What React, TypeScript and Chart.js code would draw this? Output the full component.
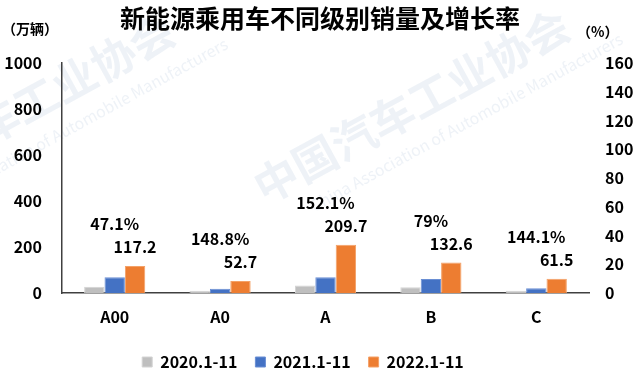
import React, { useEffect, useRef } from "react";
import { Chart, registerables } from "chart.js";

Chart.register(...registerables);

const categories = ["A00", "A0", "A", "B", "C"];
const seriesNames = ["2020.1-11", "2021.1-11", "2022.1-11"];
const sales2020 = [27, 10, 33, 25, 10];
const sales2021 = [68, 18, 68, 61, 21];
const sales2022 = [117.2, 52.7, 209.7, 132.6, 61.5];
const growth2022 = [47.1, 148.8, 152.1, 79, 144.1];

const FONT = '"Noto Sans CJK SC", "Noto Sans", sans-serif';

const watermarkPlugin = {
  id: "watermark",
  beforeDraw(chart: any) {
    const ctx = chart.ctx;
    ctx.save();
    const drawMark = (x: number, y: number) => {
      ctx.save();
      ctx.translate(x, y);
      ctx.rotate(-0.5);
      ctx.fillStyle = "rgba(205,218,232,0.35)";
      ctx.font = `bold 44px ${FONT}`;
      ctx.textBaseline = "alphabetic";
      ctx.fillText("中国汽车工业协会", 0, 0);
      ctx.font = `16px ${FONT}`;
      ctx.fillText("China Association of Automobile Manufacturers", 40, 30);
      ctx.restore();
    };
    drawMark(-130, 210);
    drawMark(265, 205);
    ctx.restore();
  },
};

const legendShiftPlugin = {
  id: "legendShift",
  afterLayout(chart: any) {
    if (chart.legend) {
      chart.legend.left -= 17;
      chart.legend.right -= 17;
    }
  },
};

const labelsPlugin = {
  id: "barLabels",
  afterDatasetsDraw(chart: any) {
    const ctx = chart.ctx;
    const meta = chart.getDatasetMeta(2);
    const xScale = chart.scales.x;
    ctx.save();
    ctx.fillStyle = "#000";
    ctx.font = `bold 16px ${FONT}`;
    ctx.textAlign = "center";
    ctx.textBaseline = "middle";
    meta.data.forEach((bar: any, i: number) => {
      const vy = bar.y - 19;
      ctx.fillText(String(sales2022[i]), bar.x, vy);
      ctx.fillText(`${growth2022[i]}%`, xScale.getPixelForValue(i), vy - 23);
    });
    ctx.font = `bold 14px ${FONT}`;
    ctx.textAlign = "left";
    ctx.fillText("（万辆）", 2, 29);
    ctx.fillText("（%）", 577, 32);
    ctx.restore();
  },
};

export default function App() {
  const ref = useRef<HTMLCanvasElement>(null);
  useEffect(() => {
    document.body.style.margin = "0";
    const chart = new Chart(ref.current as HTMLCanvasElement, {
      type: "bar",
      data: {
        labels: categories,
        datasets: [
          {
            label: seriesNames[0],
            data: sales2020,
            backgroundColor: "#bfbfbf",
            borderColor: "#d4d4d4",
            borderWidth: 1,
          },
          {
            label: seriesNames[1],
            data: sales2021,
            backgroundColor: "#4472c4",
            borderColor: "#6a8fd4",
            borderWidth: 1,
          },
          {
            label: seriesNames[2],
            data: sales2022,
            backgroundColor: "#ed7d31",
            borderColor: "#f4a167",
            borderWidth: 1,
          },
        ],
      },
      options: {
        responsive: false,
        animation: false,
        layout: { padding: { left: 0, right: 0, top: 0, bottom: -8 } },
        datasets: {
          bar: { barPercentage: 1, categoryPercentage: 0.58 },
        },
        scales: {
          x: {
            grid: { display: false, drawTicks: false },
            border: { display: true, color: "#404040", width: 1.5 },
            ticks: {
              color: "#000",
              font: { family: FONT, size: 16, weight: "bold" },
              padding: 14,
            },
            afterFit(scale: any) {
              scale.height = 43;
            },
          },
          y: {
            position: "left",
            min: 0,
            max: 1000,
            ticks: {
              stepSize: 200,
              color: "#000",
              font: { family: FONT, size: 16, weight: "bold" },
              padding: 20,
              callback: (v: any) => String(v),
            },
            grid: { display: false, drawTicks: false },
            border: { display: true, color: "#404040", width: 1.5 },
            afterFit(scale: any) {
              scale.width = 62;
            },
          },
          y1: {
            position: "right",
            min: 0,
            max: 160,
            ticks: {
              stepSize: 20,
              color: "#000",
              font: { family: FONT, size: 16, weight: "bold" },
              padding: 16,
              callback: (v: any) => String(v),
            },
            grid: { display: false, drawTicks: false },
            border: { display: false },
            afterFit(scale: any) {
              scale.width = 51;
            },
          },
        },
        plugins: {
          title: {
            display: true,
            text: "新能源乘用车不同级别销量及增长率",
            color: "#000",
            font: { family: FONT, size: 25, weight: "bold" },
            padding: { top: 3, bottom: 30 },
          },
          legend: {
            position: "bottom",
            labels: {
              boxWidth: 10,
              boxHeight: 10,
              padding: 18,
              color: "#000",
              font: { family: FONT, size: 16, weight: "bold" },
            },
          },
          tooltip: { enabled: false },
        },
      },
      plugins: [watermarkPlugin, legendShiftPlugin, labelsPlugin],
    } as any);
    return () => chart.destroy();
  }, []);
  return (
    <div style={{ position: "absolute", left: 0, top: 0, width: 640, height: 372 }}>
      <canvas ref={ref} width={640} height={372} />
    </div>
  );
}
